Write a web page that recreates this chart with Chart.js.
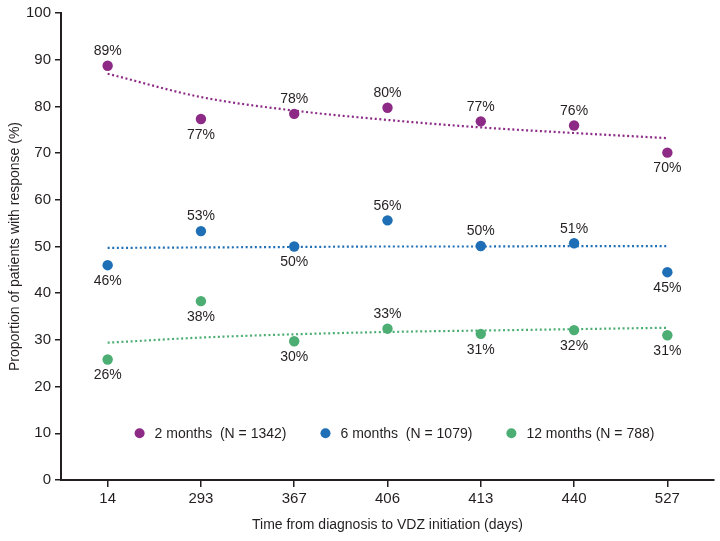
<!DOCTYPE html>
<html>
<head>
<meta charset="utf-8">
<script src="https://cdn.jsdelivr.net/npm/chart.js@4.4.1/dist/chart.umd.min.js"></script>
<style>
  html, body { margin: 0; padding: 0; background: #ffffff; }
  #wrap { width: 720px; height: 541px; }
</style>
</head>
<body>
<div id="wrap"><canvas id="c" width="720" height="541"></canvas></div>
<script>
// ---- data ----
const categories = ['14', '293', '367', '406', '413', '440', '527'];
const seriesNames = ['2 months  (N = 1342)', '6 months  (N = 1079)', '12 months (N = 788)'];

const values2m  = [88.7, 77.3, 78.4, 79.7, 76.8, 75.9, 70.1];
const values6m  = [46.0, 53.3, 50.0, 55.6, 50.1, 50.7, 44.5];
const values12m = [25.8, 38.3, 29.7, 32.4, 31.3, 32.1, 31.0];

const labels2m  = [89, 77, 78, 80, 77, 76, 70];
const labels6m  = [46, 53, 50, 56, 50, 51, 45];
const labels12m = [26, 38, 30, 33, 31, 32, 31];

// trend lines at each category
const trend2m  = [87.0, 82.0, 79.1, 77.1, 75.5, 74.3, 73.2];
const trend6m  = [49.7, 49.8, 49.9, 50.0, 50.0, 50.1, 50.1];
const trend12m = [29.4, 30.5, 31.2, 31.7, 32.0, 32.3, 32.6];

const yTicks = [0, 10, 20, 30, 40, 50, 60, 70, 80, 90, 100];

// ---- styles ----
const colors = ['#8c2a86', '#1f6fb6', '#4cae73'];
const textColor = '#231f20';
const FONT = "'Liberation Sans', Arial, Helvetica, sans-serif";
// label placement: 1 = above point, -1 = below point
const place2m  = [1, -1, 1, 1, 1, 1, -1];
const place6m  = [-1, 1, -1, 1, 1, 1, -1];
const place12m = [-1, -1, -1, 1, -1, -1, -1];

const pointSets = [
  { data: values2m,  labels: labels2m,  place: place2m },
  { data: values6m,  labels: labels6m,  place: place6m },
  { data: values12m, labels: labels12m, place: place12m }
];
const trendSets = [trend2m, trend6m, trend12m];

const datasets = [];
trendSets.forEach((t, i) => {
  datasets.push({
    label: 'trend' + i,
    data: t,
    borderColor: colors[i],
    borderWidth: 2.2,
    borderDash: [2, 2.6],
    pointRadius: 0,
    pointHoverRadius: 0,
    fill: false,
    tension: 0.4,
    cubicInterpolationMode: 'monotone'
  });
});
pointSets.forEach((p, i) => {
  datasets.push({
    label: seriesNames[i],
    data: p.data,
    showLine: false,
    pointRadius: 5.2,
    pointBackgroundColor: colors[i],
    pointBorderColor: colors[i],
    pointBorderWidth: 0,
    valueLabels: p.labels,
    labelPlace: p.place
  });
});

const labelPlugin = {
  id: 'valueLabels',
  afterDatasetsDraw(chart) {
    const ctx = chart.ctx;
    ctx.save();
    ctx.font = '14px ' + FONT;
    ctx.fillStyle = textColor;
    ctx.textAlign = 'center';
    ctx.textBaseline = 'middle';
    chart.data.datasets.forEach((ds, di) => {
      if (!ds.valueLabels) return;
      const meta = chart.getDatasetMeta(di);
      meta.data.forEach((pt, j) => {
        const up = ds.labelPlace[j] > 0;
        const y = up ? pt.y - 14.5 : pt.y + 16;
        ctx.fillText(ds.valueLabels[j] + '%', pt.x, y);
      });
    });
    ctx.restore();
  }
};

const legendPlugin = {
  id: 'innerLegend',
  afterDatasetsDraw(chart) {
    const ctx = chart.ctx;
    const area = chart.chartArea;
    const y = chart.scales.y.getPixelForValue(10);
    ctx.save();
    ctx.font = '14px ' + FONT;
    ctx.textBaseline = 'middle';
    ctx.textAlign = 'left';
    const r = 5, gapDot = 10, gapItem = 34;
    const widths = seriesNames.map(n => ctx.measureText(n).width);
    let total = 0;
    widths.forEach((w, i) => { total += 2 * r + gapDot + w + (i < widths.length - 1 ? gapItem : 0); });
    let x = (area.left + area.right) / 2 - total / 2 + 7;
    seriesNames.forEach((n, i) => {
      ctx.fillStyle = colors[i];
      ctx.beginPath();
      ctx.arc(x + r, y, r, 0, Math.PI * 2);
      ctx.fill();
      ctx.fillStyle = textColor;
      ctx.fillText(n, x + 2 * r + gapDot, y + 0.5);
      x += 2 * r + gapDot + widths[i] + gapItem;
    });
    ctx.restore();
  }
};

new Chart(document.getElementById('c'), {
  type: 'line',
  data: { labels: categories, datasets },
  plugins: [labelPlugin, legendPlugin],
  options: {
    responsive: false,
    animation: false,
    devicePixelRatio: 1,
    layout: { padding: { left: 0, right: 6, top: 6.5, bottom: 0 } },
    plugins: {
      legend: { display: false },
      tooltip: { enabled: false }
    },
    scales: {
      x: {
        type: 'category',
        offset: true,
        grid: {
          display: true,
          drawOnChartArea: false,
          drawTicks: true,
          tickLength: 7,
          color: textColor,
          lineWidth: 1.5,
          offset: false
        },
        border: { display: true, color: textColor, width: 2 },
        ticks: {
          color: textColor,
          font: { size: 15, family: FONT },
          padding: 3,
          maxRotation: 0,
          autoSkip: false
        },
        title: {
          display: true,
          text: 'Time from diagnosis to VDZ initiation (days)',
          color: textColor,
          font: { size: 14, family: FONT },
          padding: { top: 0, bottom: 7.5 }
        },
        afterFit(s) { s.height = 61; }
      },
      y: {
        min: 0,
        max: 100,
        afterBuildTicks(s) { s.ticks = yTicks.map(v => ({ value: v })); },
        grid: {
          display: true,
          drawOnChartArea: false,
          drawTicks: true,
          tickLength: 6,
          color: textColor,
          lineWidth: 1.5
        },
        border: { display: true, color: textColor, width: 2 },
        ticks: {
          color: textColor,
          font: { size: 15, family: FONT },
          padding: 4
        },
        title: {
          display: true,
          text: 'Proportion of patients with response (%)',
          color: textColor,
          font: { size: 14, family: FONT },
          padding: { top: 6.5, bottom: 0 }
        },
        afterFit(s) { s.width = 61; }
      }
    }
  }
});
</script>
</body>
</html>
